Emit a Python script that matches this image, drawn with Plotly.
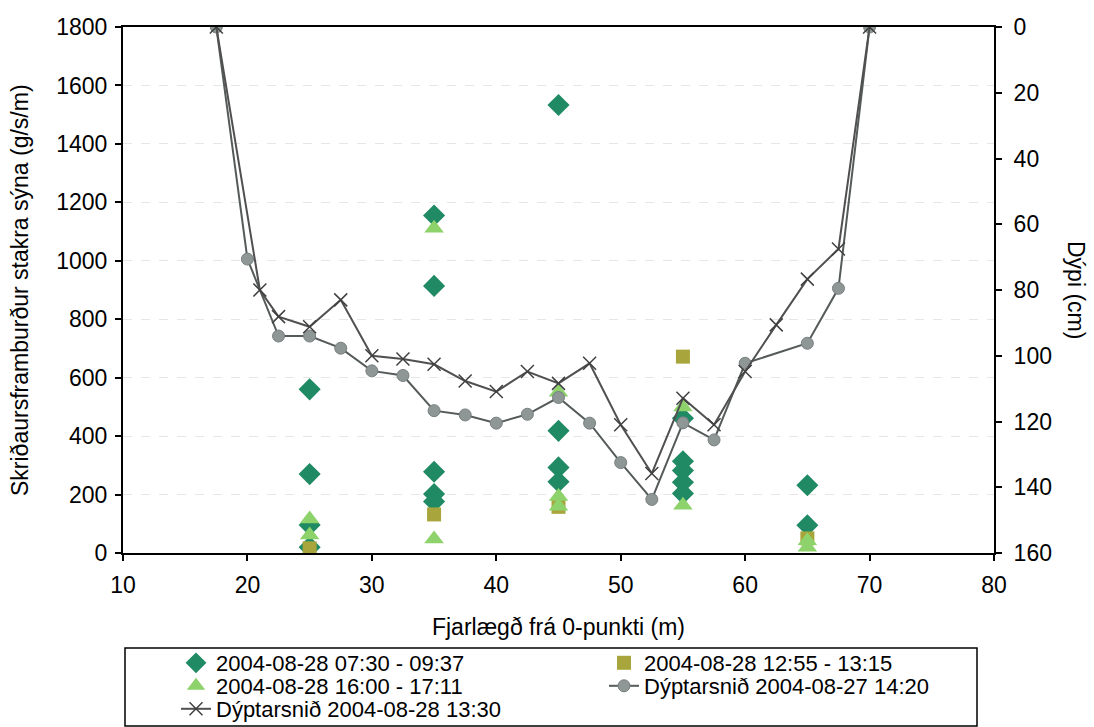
import plotly.graph_objects as go

# ---- data ----
x_diamond = [25, 25, 25, 25, 35, 35, 35, 35, 35, 45, 45, 45, 45, 55, 55, 55, 55, 55, 65, 65]
y_diamond = [560, 270, 96, 20, 1155, 914, 278, 202, 176, 1533, 418, 293, 244, 461, 314, 282, 242, 204, 232, 95]

x_square = [25, 35, 45, 55, 65]
y_square = [16, 132, 158, 672, 50]

x_triangle = [25, 25, 35, 35, 45, 45, 45, 55, 55, 65, 65]
y_triangle = [116, 62, 1111, 48, 550, 193, 160, 500, 163, 42, 20]

x_depth27 = [17.5, 20, 22.5, 25, 27.5, 30, 32.5, 35, 37.5, 40, 42.5, 45, 47.5, 50, 52.5, 55, 57.5, 60, 65, 67.5, 70]
d_depth27 = [0, 70.6, 94, 94, 97.7, 104.6, 106, 116.7, 118, 120.5, 117.8, 112.7, 120.5, 132.5, 143.7, 120.4, 125.6, 102.3, 96.2, 79.5, 0]

x_depth28 = [17.5, 21, 22.5, 25, 27.5, 30, 32.5, 35, 37.5, 40, 42.5, 45, 47.5, 50, 52.5, 55, 57.5, 60, 62.5, 65, 67.5, 70]
d_depth28 = [0, 80, 88.1, 91.2, 83, 100, 101, 102.6, 107.7, 110.9, 104.8, 108.4, 102.3, 121, 135.8, 112.9, 121, 104.8, 90.6, 76.7, 67.5, 0]

names = ["2004-08-28 07:30 - 09:37", "2004-08-28 12:55 - 13:15", "2004-08-28 16:00 - 17:11",
         "Dýptarsnið 2004-08-27 14:20", "Dýptarsnið 2004-08-28 13:30"]

x_ticks = [10, 20, 30, 40, 50, 60, 70, 80]
y_ticks = [0, 200, 400, 600, 800, 1000, 1200, 1400, 1600, 1800]
y2_ticks = [0, 20, 40, 60, 80, 100, 120, 140, 160]

FONT = "Liberation Sans, Arial, sans-serif"
FS = 23
LFS = 22
W, H = 1094, 727
L, R, T, B = 123, 100, 27, 174
PW, PH = W - L - R, H - T - B

def px_x(p):
    return (p - L) / PW

def px_y(p):
    return (H - B - p) / PH

fig = go.Figure()
fig.add_trace(go.Scatter(x=x_diamond, y=y_diamond, mode="markers", name=names[0],
                         marker=dict(symbol="diamond", size=17, color="#1f8a63"), legend="legend"))
fig.add_trace(go.Scatter(x=x_square, y=y_square, mode="markers", name=names[1],
                         marker=dict(symbol="square", size=14, color="#a8a53c"), legend="legend"))
fig.add_trace(go.Scatter(x=x_triangle, y=y_triangle, mode="markers", name=names[2],
                         marker=dict(symbol="triangle-up", size=17, color="#8dd26a"), legend="legend2"))
fig.add_trace(go.Scatter(x=x_depth27, y=d_depth27, mode="lines+markers", name=names[3], yaxis="y2",
                         line=dict(color="#555a5a", width=2),
                         marker=dict(symbol="circle", size=12, color="#8e9696",
                                     line=dict(color="#777f7f", width=1)), legend="legend2"))
fig.add_trace(go.Scatter(x=x_depth28, y=d_depth28, mode="lines+markers", name=names[4], yaxis="y2",
                         line=dict(color="#505050", width=2),
                         marker=dict(symbol="x-thin", size=13, color="#404040",
                                     line=dict(color="#404040", width=1.5)), legend="legend3"))

axis_common = dict(showline=True, linecolor="black", linewidth=2, ticks="outside",
                   tickcolor="black", ticklen=6, tickwidth=1.5,
                   tickfont=dict(family=FONT, size=FS, color="black"))

legend_common = dict(orientation="h", xanchor="left", yanchor="middle", bgcolor="rgba(0,0,0,0)",
                     borderwidth=0, font=dict(family=FONT, size=LFS, color="black"),
                     entrywidth=383, entrywidthmode="pixels", itemwidth=30, tracegroupgap=0)

fig.update_layout(
    width=W, height=H,
    margin=dict(l=L, r=R, t=T, b=B, autoexpand=False),
    paper_bgcolor="white", plot_bgcolor="white",
    font=dict(family=FONT, size=FS, color="black"),
    xaxis=dict(range=[10, 80], tickvals=x_ticks, showgrid=False, zeroline=False, mirror=True,
               ticklabelstandoff=4,
               title=dict(text="Fjarlægð frá 0-punkti (m)", font=dict(family=FONT, size=FS), standoff=22),
               **axis_common),
    yaxis=dict(range=[0, 1800], tickvals=y_ticks, showgrid=True, gridcolor="#e6e6e6", griddash="dash",
               gridwidth=1, zeroline=False, ticklabelstandoff=3, **axis_common),
    yaxis2=dict(range=[160, 0], tickvals=y2_ticks, overlaying="y", side="right", showgrid=False,
                zeroline=False, ticklabelstandoff=7, **axis_common),
    legend=dict(x=px_x(176), y=px_y(663), **legend_common),
    legend2=dict(x=px_x(176), y=px_y(686), **legend_common),
    legend3=dict(x=px_x(176), y=px_y(709), **legend_common),
    showlegend=True,
)

fig.add_annotation(text="Skriðaursframburður stakra sýna (g/s/m)", xref="paper", yref="paper",
                   x=px_x(20), y=px_y(290), xanchor="center", yanchor="middle",
                   textangle=-90, showarrow=False, font=dict(family=FONT, size=FS, color="black"))

fig.add_annotation(text="Dýpi (cm)", xref="paper", yref="paper", x=px_x(1076), y=0.5,
                   xanchor="center", yanchor="middle",
                   textangle=90, showarrow=False, font=dict(family=FONT, size=FS, color="black"))

fig.add_shape(type="rect", xref="paper", yref="paper", x0=px_x(125), x1=px_x(977),
              y0=px_y(648), y1=px_y(726), line=dict(color="black", width=1.5), fillcolor="rgba(0,0,0,0)")

fig.write_html("out.html")
